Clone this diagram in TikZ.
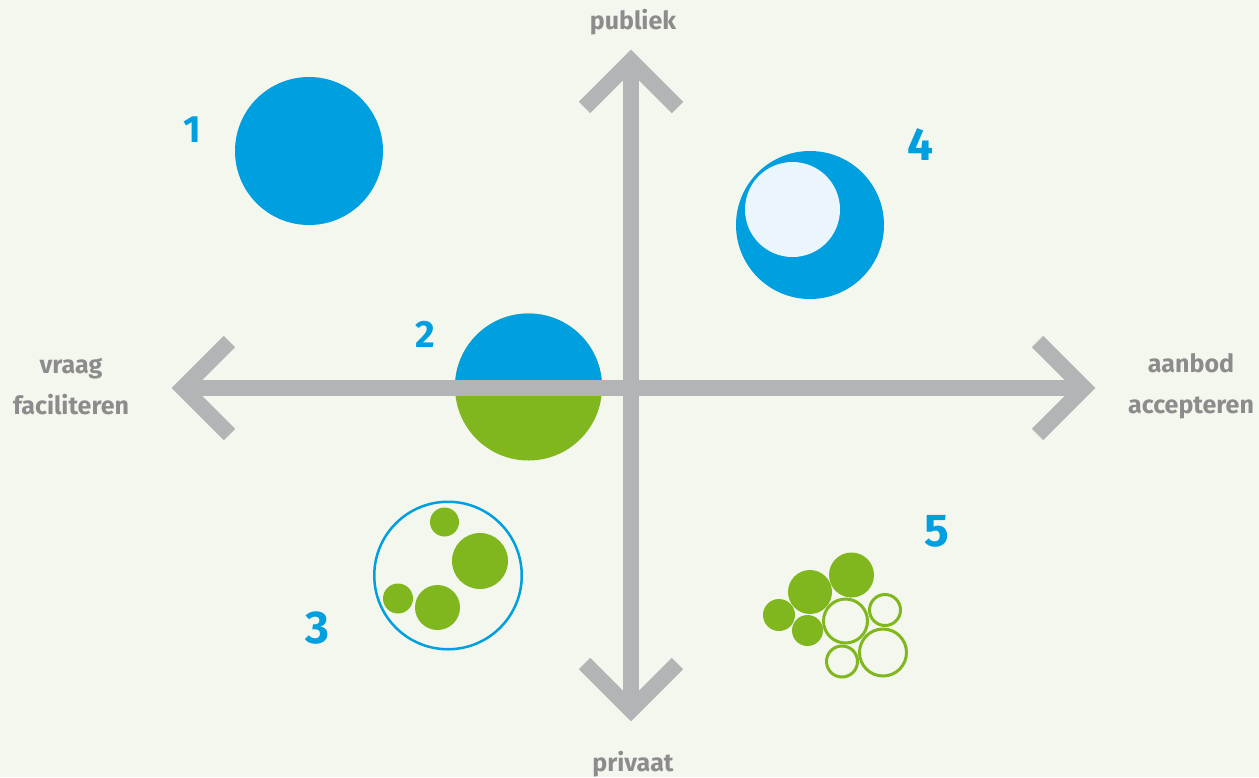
\documentclass[tikz,border=0pt]{standalone}
\usepackage{fontspec}
\setmainfont{Fira Sans}
\definecolor{bg}{HTML}{F4F7EE}
\definecolor{axisgray}{HTML}{B3B4B6}
\definecolor{myblue}{HTML}{009FE0}
\definecolor{mygreen}{HTML}{80B71E}
\definecolor{lightblue}{HTML}{EAF5FC}
\definecolor{labgray}{HTML}{8C8C8C}
\begin{document}
\begin{tikzpicture}[x=1pt,y=-1pt,
  axisline/.style={draw=axisgray,line width=16pt},
  chev/.style={draw=axisgray,line width=16pt,line join=miter,miter limit=10},
  lab/.style={text=labgray,font=\fontsize{25}{41}\selectfont\bfseries,align=center,inner sep=0},
  numsmall/.style={text=myblue,font=\fontsize{38}{38}\selectfont\bfseries,inner sep=0},
  numbig/.style={text=myblue,font=\fontsize{46}{46}\selectfont\bfseries,inner sep=0},
  dot/.style={circle,inner sep=0,outer sep=0,draw=none},
  bfill/.style={dot,fill=myblue},
  gfill/.style={dot,fill=mygreen},
  gring/.style={circle,inner sep=0,outer sep=0,draw=mygreen,line width=3pt,fill=none},
  bring/.style={circle,inner sep=0,outer sep=0,draw=myblue,line width=2.5pt,fill=none}]
\fill[bg] (0,0) rectangle (1259,777);
\useasboundingbox (0,0) rectangle (1259,777);

% circle 1
\node[bfill,minimum size=148pt] (c1) at (309,151) {};
% circle 2 (half blue, half green)
\node[gfill,minimum size=147pt] (c2) at (528.5,387) {};
\begin{scope}
  \clip (450,300) rectangle (610,388);
  \node[bfill,minimum size=147pt] (c2top) at (528.5,387) {};
\end{scope}
% circle 4
\node[bfill,minimum size=148pt] (c4) at (810,225) {};
\node[dot,fill=lightblue,minimum size=95pt] (c4in) at (792.5,209.5) {};
% cluster 3
\node[bring,minimum size=147.5pt] (c3) at (448,575.5) {};
\node[gfill,minimum size=29pt] (c3a) at (444.5,522) {};
\node[gfill,minimum size=56pt] (c3b) at (480,561) {};
\node[gfill,minimum size=30pt] (c3c) at (398,598.5) {};
\node[gfill,minimum size=45pt] (c3d) at (437.5,607.5) {};
% cluster 5
\node[gfill,minimum size=44pt] (c5a) at (810,592) {};
\node[gfill,minimum size=45pt] (c5b) at (851.5,575) {};
\node[gfill,minimum size=32pt] (c5c) at (779,615) {};
\node[gfill,minimum size=31pt] (c5d) at (807.5,630.5) {};
\node[gring,minimum size=44pt] (c5e) at (845.5,621) {};
\node[gring,minimum size=31pt] (c5f) at (885,610) {};
\node[gring,minimum size=31pt] (c5g) at (842,661.5) {};
\node[gring,minimum size=47pt] (c5h) at (883,652.5) {};

% axes
\coordinate (L) at (183,388);
\coordinate (R) at (1084,388);
\coordinate (T) at (631,61);
\coordinate (B) at (631,710);
\draw[axisline] (L) -- (R);
\draw[axisline] (T) -- (B);
\draw[chev] ([shift={(46.5,-46.5)}]L) -- (L) -- ([shift={(46.5,46.5)}]L);
\draw[chev] ([shift={(-46.5,-46.5)}]R) -- (R) -- ([shift={(-46.5,46.5)}]R);
\draw[chev] ([shift={(-46.5,46.5)}]T) -- (T) -- ([shift={(46.5,46.5)}]T);
\draw[chev] ([shift={(-46.5,-46.5)}]B) -- (B) -- ([shift={(46.5,-46.5)}]B);

% labels
\node[lab] (publiek) at (633,22) {publiek};
\node[lab] (privaat) at (633,764) {privaat};
\node[lab] (vraag) at (71,386) {vraag\\faciliteren};
\node[lab] (aanbod) at (1191,386) {aanbod\\accepteren};

% numbers
\node[numsmall] (n1) at (192,130) {1};
\node[numsmall] (n2) at (425,334.5) {2};
\node[numbig] (n3) at (317,628.5) {3};
\node[numbig] (n4) at (920,145) {4};
\node[numbig] (n5) at (937,531) {5};
\end{tikzpicture}
\end{document}
